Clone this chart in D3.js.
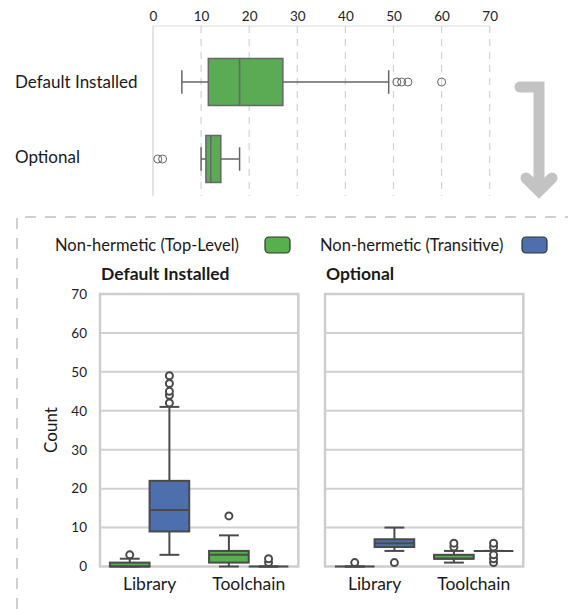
<!DOCTYPE html>
<html>
<head>
<meta charset="utf-8">
<script src="https://cdn.jsdelivr.net/npm/d3@7"></script>
<style>
  html, body { margin: 0; padding: 0; background: #fff; }
  svg { display: block; font-family: Lato, "Open Sans", sans-serif; }
</style>
</head>
<body>
<svg id="chart" width="568" height="609"></svg>
<script>
// ---- Overview: totals per install group (horizontal box plots) ----
const topGroups = ["Default Installed", "Optional"];
const topTicks = [0, 10, 20, 30, 40, 50, 60, 70];
const topQ1 = [11.5, 11];
const topMedian = [18, 12];
const topQ3 = [27, 14.1];
const topWhiskerLow = [6, 10];
const topWhiskerHigh = [49, 18];
const topOutliers = [[50.7, 51.7, 53, 60], [1, 2]];

// ---- Breakdown: count per category, split by dependency kind ----
const panels = ["Default Installed", "Optional"];
const categories = ["Library", "Toolchain"];
const series = ["Non-hermetic (Top-Level)", "Non-hermetic (Transitive)"];
const yTicks = [0, 10, 20, 30, 40, 50, 60, 70];
// indexed [panel][category][series]
const boxQ1 = [[[0, 9], [1, 0]], [[0, 5], [2, 4]]];
const boxMedian = [[[0, 14.5], [3, 0]], [[0, 6], [2, 4]]];
const boxQ3 = [[[1, 22], [4, 0]], [[0, 7], [3, 4]]];
const boxWhiskerLow = [[[0, 3], [0, 0]], [[0, 4], [1, 4]]];
const boxWhiskerHigh = [[[2, 41], [8, 0]], [[0, 10], [4, 4]]];
const boxOutliers = [
  [[[3], [42, 44, 45, 47, 49]], [[13], [1, 2]]],
  [[[1], [1]], [[5, 6], [1, 2, 3, 5, 6]]]
];

const seriesColor = ["#55b04d", "#4e6fae"];
const topColor = "#5aab53";

const svg = d3.select("#chart");

// ================= overview =================
const tx = d3.scaleLinear().domain([0, 70]).range([153, 489.7]);
const ty = d3.scaleBand().domain(topGroups).range([43.5, 197.5]);
const topGrid = svg.append("g");
topGrid.append("line")
  .attr("x1", tx(0)).attr("x2", tx(70)).attr("y1", 26).attr("y2", 26)
  .attr("stroke", "#dcdcdc").attr("stroke-width", 1.2);
topGrid.selectAll("line.v").data(topTicks).join("line")
  .attr("class", "v")
  .attr("x1", d => tx(d)).attr("x2", d => tx(d))
  .attr("y1", 26).attr("y2", 196)
  .attr("stroke", "#d2d2d2").attr("stroke-width", 1.2)
  .attr("stroke-dasharray", d => d === 0 ? null : "7,6");

const topAxis = svg.append("g").attr("transform", "translate(0,26)")
  .call(d3.axisTop(tx).tickValues(topTicks).tickSize(0).tickPadding(5));
topAxis.select(".domain").remove();
topAxis.selectAll("text").attr("font-size", 13.5).attr("fill", "#222")
  .attr("font-family", "Lato, sans-serif");

svg.append("g").selectAll("text").data(topGroups).join("text")
  .attr("x", 15).attr("y", (d, i) => ty(d) + ty.bandwidth() / 2 - i * 2)
  .attr("dy", "0.35em").attr("font-size", 17).attr("fill", "#1a1a1a")
  .text(d => d);

const topBoxH = ty.bandwidth() * 0.61;
topGroups.forEach((g, i) => {
  const cy = ty(g) + ty.bandwidth() / 2;
  const grp = svg.append("g").attr("stroke", "#666").attr("stroke-width", 1.5);
  grp.append("line").attr("x1", tx(topWhiskerLow[i])).attr("x2", tx(topQ1[i]))
    .attr("y1", cy).attr("y2", cy);
  grp.append("line").attr("x1", tx(topQ3[i])).attr("x2", tx(topWhiskerHigh[i]))
    .attr("y1", cy).attr("y2", cy);
  [topWhiskerLow[i], topWhiskerHigh[i]].forEach(v => {
    grp.append("line").attr("x1", tx(v)).attr("x2", tx(v))
      .attr("y1", cy - topBoxH / 4).attr("y2", cy + topBoxH / 4);
  });
  grp.append("rect")
    .attr("x", tx(topQ1[i])).attr("width", tx(topQ3[i]) - tx(topQ1[i]))
    .attr("y", cy - topBoxH / 2).attr("height", topBoxH)
    .attr("fill", topColor);
  grp.append("line").attr("x1", tx(topMedian[i])).attr("x2", tx(topMedian[i]))
    .attr("y1", cy - topBoxH / 2).attr("y2", cy + topBoxH / 2);
  grp.selectAll("circle").data(topOutliers[i]).join("circle")
    .attr("cx", d => tx(d)).attr("cy", cy).attr("r", 4)
    .attr("fill", "none").attr("stroke-width", 1);
});

// flow arrow pointing to the breakdown
svg.append("path")
  .attr("d", "M520,87 L539,87 L539,188")
  .attr("fill", "none").attr("stroke", "#c3c3c3").attr("stroke-width", 11)
  .attr("stroke-linecap", "round").attr("stroke-linejoin", "miter");
svg.append("path")
  .attr("d", "M526,178 L539,191 L552,178")
  .attr("fill", "none").attr("stroke", "#c3c3c3").attr("stroke-width", 11)
  .attr("stroke-linecap", "round").attr("stroke-linejoin", "miter");

// dashed frame around the breakdown
svg.append("path")
  .attr("d", "M17,609 L17,217 L568,217")
  .attr("fill", "none").attr("stroke", "#cfcfcf").attr("stroke-width", 2)
  .attr("stroke-dasharray", "11,9");

// ================= legend =================
const legend = svg.append("g");
const legendX = [[55, 265], [320, 522]];
series.forEach((s, i) => {
  legend.append("text").attr("x", legendX[i][0]).attr("y", 245)
    .attr("dy", "0.35em").attr("font-size", 16.5).attr("fill", "#1a1a1a").text(s);
  legend.append("rect").attr("x", legendX[i][1]).attr("y", 237)
    .attr("width", 25).attr("height", 16).attr("rx", 4)
    .attr("fill", seriesColor[i]).attr("stroke", "#333").attr("stroke-width", 1.2);
});

// ================= panels =================
const y = d3.scaleLinear().domain([0, 70]).range([566.5, 294]);
const panelLeft = [100, 325];
const panelW = 198.3;

svg.append("text")
  .attr("transform", "translate(57,430) rotate(-90)")
  .attr("text-anchor", "middle").attr("font-size", 17).attr("fill", "#1a1a1a")
  .text("Count");

const yAxis = svg.append("g").attr("transform", "translate(" + (panelLeft[0] - 8) + ",0)")
  .call(d3.axisLeft(y).tickValues(yTicks).tickSize(0).tickPadding(5));
yAxis.select(".domain").remove();
yAxis.selectAll("text").attr("font-size", 13.5).attr("fill", "#222")
  .attr("font-family", "Lato, sans-serif");

panels.forEach((p, pi) => {
  const x = d3.scaleBand().domain(categories).range([panelLeft[pi], panelLeft[pi] + panelW]);
  const xs = d3.scaleBand().domain(series).range([x.bandwidth() * 0.1, x.bandwidth() * 0.9]);
  const g = svg.append("g");

  g.append("text").attr("x", panelLeft[pi] + 1).attr("y", 274).attr("dy", "0.35em")
    .attr("font-size", 17.5).attr("font-weight", "bold").attr("fill", "#1a1a1a").text(p);

  g.selectAll("line.grid").data(yTicks.slice(1, -1)).join("line")
    .attr("class", "grid")
    .attr("x1", panelLeft[pi]).attr("x2", panelLeft[pi] + panelW)
    .attr("y1", d => y(d)).attr("y2", d => y(d))
    .attr("stroke", "#d0d0d0").attr("stroke-width", 2);
  g.append("rect")
    .attr("x", panelLeft[pi]).attr("y", y(70))
    .attr("width", panelW).attr("height", y(0) - y(70))
    .attr("fill", "none").attr("stroke", "#cdcdcd").attr("stroke-width", 2.5);

  const xAxis = g.append("g").attr("transform", "translate(0," + (y(0) + 7) + ")")
    .call(d3.axisBottom(x).tickSize(0).tickPadding(4));
  xAxis.select(".domain").remove();
  xAxis.selectAll("text").attr("font-size", 17.5).attr("fill", "#1a1a1a")
    .attr("font-family", "Lato, sans-serif");

  categories.forEach((c, ci) => {
    series.forEach((s, si) => {
      const x0 = x(c) + xs(s);
      const w = xs.bandwidth();
      const cx = x0 + w / 2;
      const b = g.append("g").attr("stroke", "#4a4a4a").attr("stroke-width", 2);
      const q1 = boxQ1[pi][ci][si], med = boxMedian[pi][ci][si], q3 = boxQ3[pi][ci][si];
      const lo = boxWhiskerLow[pi][ci][si], hi = boxWhiskerHigh[pi][ci][si];
      b.append("line").attr("x1", cx).attr("x2", cx).attr("y1", y(lo)).attr("y2", y(q1));
      b.append("line").attr("x1", cx).attr("x2", cx).attr("y1", y(q3)).attr("y2", y(hi));
      [lo, hi].forEach(v => {
        b.append("line").attr("x1", cx - w / 4).attr("x2", cx + w / 4)
          .attr("y1", y(v)).attr("y2", y(v));
      });
      b.append("rect").attr("x", x0).attr("width", w)
        .attr("y", y(q3)).attr("height", y(q1) - y(q3))
        .attr("fill", seriesColor[si]);
      b.append("line").attr("x1", x0).attr("x2", x0 + w)
        .attr("y1", y(med)).attr("y2", y(med));
      b.selectAll("circle").data(boxOutliers[pi][ci][si]).join("circle")
        .attr("cx", cx).attr("cy", d => y(d)).attr("r", 3.5)
        .attr("fill", "#fff").attr("stroke-width", 2);
    });
  });
});
</script>
</body>
</html>
